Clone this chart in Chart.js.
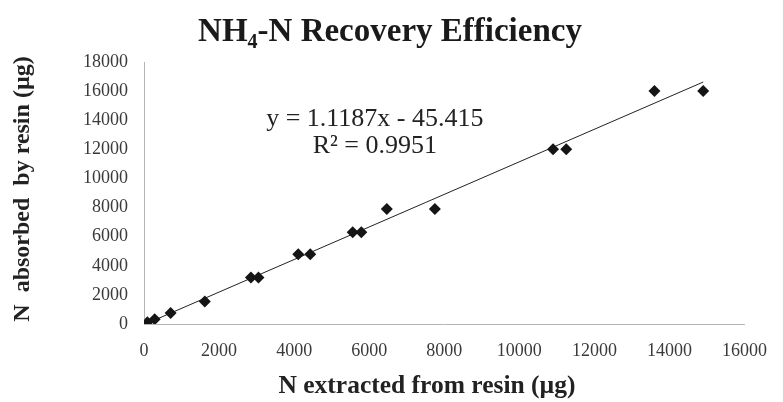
<!DOCTYPE html>
<html>
<head>
<meta charset="utf-8">
<script src="https://cdn.jsdelivr.net/npm/chart.js@4/dist/chart.umd.min.js"></script>
<style>
  html, body { margin: 0; padding: 0; background: #fff; }
  #wrap { width: 783px; height: 402px; }
</style>
</head>
<body>
<div id="wrap"><canvas id="myChart" width="783" height="402"></canvas></div>
<script>
const extracted = [90, 285, 710, 1620, 2850, 3050, 4110, 4430, 5560, 5790, 6470, 7750, 10900, 11250, 13600, 14900];
const absorbed = [120, 330, 760, 1550, 3200, 3200, 4800, 4800, 6300, 6300, 7900, 7900, 12000, 12000, 16000, 16000];
const slope = 1.1187;
const intercept = -45.415;
const equationLines = ["y = 1.1187x - 45.415", "R\u00b2 = 0.9951"];
const xTitle = "N extracted from resin (\u00b5g)";
const yTitle = "N  absorbed  by resin (\u00b5g)";

const points = extracted.map((x, i) => ({ x: x, y: absorbed[i] }));
const xMin = Math.min(...extracted);
const xMax = Math.max(...extracted);
const trend = [
  { x: xMin, y: slope * xMin + intercept },
  { x: xMax, y: slope * xMax + intercept },
];

const serif = "'Liberation Serif', 'Times New Roman', serif";

// title with subscript, axis titles and the equation label
const extraText = {
  id: "extraText",
  afterDraw(chart) {
    const c = chart.ctx;
    c.save();
    c.fillStyle = "#1a1a1a";
    c.textBaseline = "alphabetic";
    const big = "bold 33px " + serif;
    const small = "bold 20px " + serif;
    const parts = [["NH", big, 0], ["4", small, 7], ["-N Recovery Efficiency", big, 0]];
    let w = 0;
    parts.forEach(p => { c.font = p[1]; w += c.measureText(p[0]).width; });
    let x = 390 - w / 2;
    parts.forEach(p => {
      c.font = p[1];
      c.fillText(p[0], x, 41 + p[2]);
      x += c.measureText(p[0]).width;
    });

    const xs = chart.scales.x, ys = chart.scales.y;
    c.fillStyle = "#222";
    c.textAlign = "center";
    c.textBaseline = "middle";
    c.font = "bold 25.5px " + serif;
    c.fillText(xTitle, 427, 386);
    c.save();
    c.translate(23, 189);
    c.rotate(-Math.PI / 2);
    c.font = "bold 24px " + serif;
    c.fillText(yTitle, 0, 0);
    c.restore();

    const cx = xs.getPixelForValue(6150);
    c.font = "26px " + serif;
    c.fillText(equationLines[0], cx, ys.getPixelForValue(14100));
    c.fillText(equationLines[1], cx, ys.getPixelForValue(12250));
    c.restore();
  }
};

const ctx = document.getElementById("myChart").getContext("2d");

const config = {
  type: "scatter",
  data: {
    datasets: [
      {
        data: points,
        pointStyle: "rectRot",
        pointRadius: 6,
        backgroundColor: "#151515",
        borderColor: "#151515",
        borderWidth: 0,
        showLine: false,
        order: 1,
      },
      {
        data: trend,
        showLine: true,
        borderColor: "#222",
        borderWidth: 1,
        pointRadius: 0,
        order: 2,
      },
    ],
  },
  options: {
    responsive: false,
    animation: false,
    layout: {
      padding: { top: 62, right: 38, bottom: 0, left: 0 }
    },
    scales: {
      x: {
        type: "linear",
        min: 0,
        max: 16000,
        afterFit(scale) { scale.height = 78; },
        grid: { display: false, drawTicks: false },
        border: { display: true, color: "#b5b5b5", width: 1 },
        ticks: {
          stepSize: 2000,
          padding: 16,
          color: "#3a3a3a",
          font: { family: serif, size: 18 },
          callback: (v) => String(v),
        },
      },
      y: {
        min: 0,
        max: 18000,
        afterFit(scale) { scale.width = 144; },
        grid: { display: false, drawTicks: false },
        border: { display: true, color: "#b5b5b5", width: 1 },
        ticks: {
          stepSize: 2000,
          padding: 16,
          color: "#3a3a3a",
          font: { family: serif, size: 18 },
          callback: (v) => String(v),
        },
      },
    },
    plugins: {
      legend: { display: false },
      title: { display: false },
      tooltip: { enabled: false },
    },
  },
  plugins: [extraText],
};

const myChart = new Chart(ctx, config);
</script>
</body>
</html>
